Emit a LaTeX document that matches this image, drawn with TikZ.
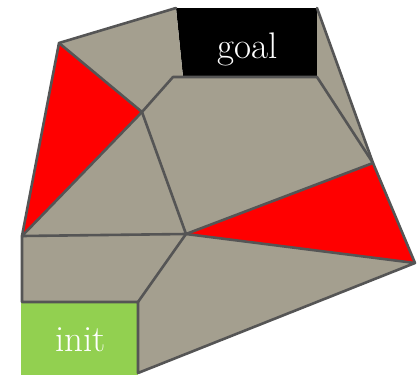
\documentclass[tikz,border=0pt]{standalone}
\usepackage{tikz}
\definecolor{cellGray}{RGB}{164,159,143}
\definecolor{edgeGray}{RGB}{85,85,85}
\definecolor{initGreen}{RGB}{146,208,80}

\begin{document}
\begin{tikzpicture}[x=1pt, y=-1pt,
      edge/.style={draw=edgeGray, line width=2.6pt, line join=round, line cap=round},
      lbl/.style={text=white, inner sep=0pt, font=\fontsize{37}{40}\selectfont}]
    \useasboundingbox (0,0) rectangle (417,375);
    % vertices of the decomposition
    \coordinate (a) at (59,43);
    \coordinate (b) at (176,8);
    \coordinate (gr) at (317,8);
    \coordinate (gbr) at (317,77);
    \coordinate (gbl) at (183,77);
    \coordinate (gl) at (173,77);
    \coordinate (d) at (142,112);
    \coordinate (e) at (22,236);
    \coordinate (f) at (186,234);
    \coordinate (g) at (373,163);
    \coordinate (h) at (415,263);
    \coordinate (itr) at (138,302);
    \coordinate (itl) at (22,302);
    \coordinate (ibr) at (138,373);
    % goal and init regions
    \fill[black] (b) -- (gr) -- (gbr) -- (gbl) -- cycle;
    \fill[initGreen] (21,302) rectangle (138,375);
    % free cells
    \fill[cellGray] (a) -- (b) -- (gbl) -- (gl) -- (d) -- cycle;
    \fill[cellGray] (d) -- (gl) -- (gbr) -- (g) -- (f) -- cycle;
    \fill[cellGray] (gr) -- (g) -- (gbr) -- cycle;
    \fill[cellGray] (e) -- (d) -- (f) -- cycle;
    \fill[cellGray] (e) -- (f) -- (itr) -- (itl) -- cycle;
    \fill[cellGray] (f) -- (h) -- (ibr) -- (itr) -- cycle;
    % obstacles
    \fill[red] (a) -- (d) -- (e) -- cycle;
    \fill[red] (f) -- (g) -- (h) -- cycle;
    % cell boundaries
    \draw[edge] (e) -- (a) -- (b);
    \draw[edge] (gr) -- (g) -- (h) -- (ibr) -- (itr) -- (itl) -- (e) -- (f) -- (h);
    \draw[edge] (a) -- (d) -- (e);
    \draw[edge] (d) -- (gl) -- (gbr) -- (g) -- (f) -- (itr);
    \draw[edge] (d) -- (f);
    % labels
    \node[lbl] (goal) at (248,49) {goal};
    \node[lbl] (init) at (80.5,340) {init};
\end{tikzpicture}
\end{document}
